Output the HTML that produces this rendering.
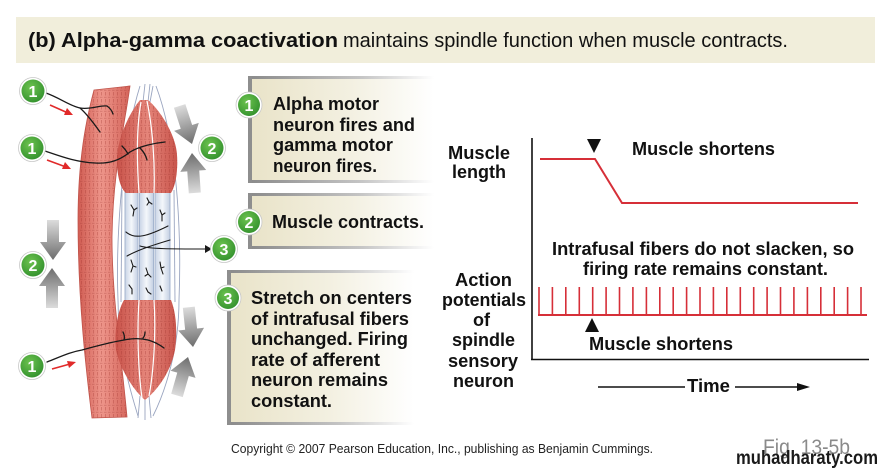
<!DOCTYPE html>
<html><head><meta charset="utf-8">
<style>
html,body{margin:0;padding:0;background:#fff;}
svg{display:block;}
text{font-family:"Liberation Sans",Arial,sans-serif;}
</style></head><body>
<svg width="885" height="470" viewBox="0 0 885 470" xmlns="http://www.w3.org/2000/svg">
<defs>
 <linearGradient id="boxg" x1="0" x2="1" y1="0" y2="0">
  <stop offset="0" stop-color="#e9e3c8"/>
  <stop offset="0.55" stop-color="#f3f0e1"/>
  <stop offset="1" stop-color="#ffffff"/>
 </linearGradient>
 <linearGradient id="bordg" x1="0" x2="1">
  <stop offset="0" stop-color="#8a8a8a"/>
  <stop offset="0.6" stop-color="#c4c4c4"/>
  <stop offset="1" stop-color="#ffffff"/>
 </linearGradient>
 <radialGradient id="green" cx="0.4" cy="0.35" r="0.75">
  <stop offset="0" stop-color="#6cc24f"/>
  <stop offset="1" stop-color="#2f8e2b"/>
 </radialGradient>
 <linearGradient id="garr" x1="0" x2="0" y1="0" y2="1">
  <stop offset="0" stop-color="#dcdcdc"/>
  <stop offset="1" stop-color="#6d6d6d"/>
 </linearGradient>
 <linearGradient id="fib" x1="0" x2="1">
  <stop offset="0" stop-color="#d05c52"/>
  <stop offset="0.45" stop-color="#ee958a"/>
  <stop offset="1" stop-color="#d4645a"/>
 </linearGradient>
 <linearGradient id="pole" x1="0" x2="1">
  <stop offset="0" stop-color="#c9534a"/>
  <stop offset="0.5" stop-color="#e5857a"/>
  <stop offset="1" stop-color="#c9554c"/>
 </linearGradient>
 <linearGradient id="tube" x1="0" x2="1">
  <stop offset="0" stop-color="#c9d4e6"/>
  <stop offset="0.5" stop-color="#f4f7fb"/>
  <stop offset="1" stop-color="#c3cfe2"/>
 </linearGradient>
 <pattern id="stri" width="4" height="7" patternUnits="userSpaceOnUse">
  <line x1="1.5" y1="1" x2="1.5" y2="4.5" stroke="#9e322b" stroke-width="0.7" opacity="0.45"/>
  <line x1="0" y1="6.2" x2="2.5" y2="6.2" stroke="#8e2a24" stroke-width="0.6" opacity="0.4"/>
 </pattern>
 <path id="arr" d="M -6 -40 L 6 -40 L 6 -18 L 13 -18 L 0 0 L -13 -18 L -6 -18 Z"/>
</defs>

<!-- Title banner -->
<rect x="16" y="17" width="859" height="46" fill="#f1eedb"/>
<text x="28" y="47" font-size="20" font-weight="bold" fill="#111" textLength="310" lengthAdjust="spacingAndGlyphs">(b) Alpha-gamma coactivation</text>
<text x="343" y="47" font-size="20" fill="#111" textLength="445" lengthAdjust="spacingAndGlyphs">maintains spindle function when muscle contracts.</text>

<!-- Extrafusal fiber -->
<path d="M 94 90 L 130 86 C 124 130, 113 170, 112 237 C 112 300, 122 360, 127 417 L 92 418 C 86 370, 78 300, 78 220 C 78 160, 86 120, 94 90 Z" fill="url(#fib)"/>
<path d="M 94 90 L 130 86 C 124 130, 113 170, 112 237 C 112 300, 122 360, 127 417 L 92 418 C 86 370, 78 300, 78 220 C 78 160, 86 120, 94 90 Z" fill="url(#stri)" stroke="#c0544b" stroke-width="0.8"/>

<!-- Spindle capsule lines -->
<g fill="none" stroke="#9aa5c0" stroke-width="0.9">
 <path d="M 140 86 C 120 150, 116 250, 118 300 C 118 350, 130 390, 138 416"/>
 <path d="M 156 86 C 180 150, 181 250, 179 300 C 179 350, 165 392, 153 416"/>
 <path d="M 145 84 L 143 102"/><path d="M 150 84 L 148 102"/><path d="M 153 86 L 150 102"/>
 <path d="M 140 396 L 138 418"/><path d="M 145 398 L 145 420"/><path d="M 149 396 L 151 418"/>
 <path d="M 122 190 L 121 302"/><path d="M 174 190 L 175 302"/>
</g>
<!-- tubes -->
<g stroke="#9fb0cb" stroke-width="0.9" fill="url(#tube)">
 <rect x="125" y="188" width="13" height="116"/>
 <rect x="139.5" y="188" width="14" height="116"/>
 <rect x="155" y="188" width="15" height="116"/>
</g>
<!-- top pole -->
<path d="M 140 100 C 128 115, 117 140, 117 160 C 117 180, 122 190, 126 193 L 171 193 C 176 185, 178 170, 177 155 C 176 135, 160 110, 148 100 Z" fill="url(#pole)"/>
<path d="M 140 100 C 128 115, 117 140, 117 160 C 117 180, 122 190, 126 193 L 171 193 C 176 185, 178 170, 177 155 C 176 135, 160 110, 148 100 Z" fill="url(#stri)"/>
<g fill="none" stroke="#fff" stroke-width="1.2">
 <path d="M 141 102 C 136 130, 137 165, 139 193"/>
 <path d="M 147 101 C 153 130, 155 165, 154 193"/>
</g>
<!-- bottom pole -->
<path d="M 124 300 L 171 300 C 177 315, 177 335, 175 350 C 170 375, 155 392, 145 400 C 135 392, 120 370, 116 350 C 114 330, 118 310, 124 300 Z" fill="url(#pole)"/>
<path d="M 124 300 L 171 300 C 177 315, 177 335, 175 350 C 170 375, 155 392, 145 400 C 135 392, 120 370, 116 350 C 114 330, 118 310, 124 300 Z" fill="url(#stri)"/>
<g fill="none" stroke="#fff" stroke-width="1.2">
 <path d="M 139 300 C 137 330, 138 370, 142 398"/>
 <path d="M 154 300 C 156 330, 154 370, 149 396"/>
</g>

<!-- intrafusal nerve endings -->
<g fill="none" stroke="#1a1a1a" stroke-width="1.1" stroke-linecap="round">
 <path d="M 126 232 C 135 240, 148 236, 168 226"/>
 <path d="M 127 256 C 138 250, 150 246, 170 240"/>
 <path d="M 131 205 l 3 5 l -1 6"/><path d="M 134 210 l 3 -2"/>
 <path d="M 147 198 l 2 4 l 3 2"/><path d="M 149 202 l -2 3"/>
 <path d="M 160 210 l 2 5 l 0 6"/><path d="M 162 215 l 3 -2"/>
 <path d="M 131 260 l 2 6 l -2 6"/><path d="M 133 266 l 3 1"/>
 <path d="M 146 268 l 2 6 l 3 3"/><path d="M 148 274 l -3 2"/>
 <path d="M 160 262 l 1 6 l 2 6"/><path d="M 161 268 l 3 -1"/>
 <path d="M 129 285 l 3 4 l 0 5"/><path d="M 146 288 l 2 4 l 3 2"/><path d="M 160 286 l 2 5"/>
 <path d="M 140 246 C 150 249, 170 249, 207 249"/>
</g>
<polygon points="205,245 212,249 205,253" fill="#1a1a1a"/>

<!-- nerves from circles -->
<g fill="none" stroke="#1a1a1a" stroke-width="1.3" stroke-linecap="round">
 <path d="M 46 93 C 60 98, 70 106, 80 108 C 90 110, 100 105, 107 106 C 110 108, 112 111, 113 114"/>
 <path d="M 80 108 C 88 115, 95 125, 100 132"/>
 <path d="M 45 151 C 60 156, 75 162, 95 163 C 110 164, 120 160, 130 152 C 140 146, 155 143, 165 142"/>
 <path d="M 128 154 C 126 150, 124 148, 122 146"/>
 <path d="M 140 148 C 144 152, 146 156, 147 160"/>
 <path d="M 47 362 C 60 357, 70 352, 82 350 C 100 345, 112 342, 124 340 C 133 338, 140 338, 148 340 C 155 342, 160 345, 164 348"/>
 <path d="M 124 340 C 125 337, 124 334, 123 332"/>
 <path d="M 143 338 C 145 336, 145 334, 145 332"/>
</g>
<!-- red arrows -->
<g stroke="#e12a2a" stroke-width="1.6" fill="#e12a2a">
 <line x1="50" y1="105" x2="68" y2="113"/><polygon points="73,115 64,115 67,108" stroke="none"/>
 <line x1="47" y1="160" x2="66" y2="167"/><polygon points="71,169 62,169 65,162" stroke="none"/>
 <line x1="52" y1="369" x2="70" y2="364"/><polygon points="76,362 69,368 67,361" stroke="none"/>
</g>

<!-- gray arrows -->
<use href="#arr" fill="url(#garr)" transform="translate(192,144) rotate(-18)"/>
<use href="#arr" fill="url(#garr)" transform="translate(192,153) rotate(176)"/>
<use href="#arr" fill="url(#garr)" transform="translate(53,260)"/>
<use href="#arr" fill="url(#garr)" transform="translate(52,268) rotate(180)"/>
<use href="#arr" fill="url(#garr)" transform="translate(193,347) rotate(-6)"/>
<use href="#arr" fill="url(#garr)" transform="translate(188,357) rotate(196)"/>

<!-- text boxes -->
<rect x="248" y="76" width="186" height="107" fill="url(#boxg)"/>
<rect x="248" y="76" width="186" height="3" fill="url(#bordg)"/>
<rect x="248" y="180" width="186" height="3" fill="url(#bordg)"/>
<rect x="248" y="76" width="4" height="107" fill="#8e8e8e"/>

<rect x="248" y="193" width="186" height="56" fill="url(#boxg)"/>
<rect x="248" y="193" width="186" height="3" fill="url(#bordg)"/>
<rect x="248" y="246" width="186" height="3" fill="url(#bordg)"/>
<rect x="248" y="193" width="4" height="56" fill="#8e8e8e"/>

<rect x="227" y="270" width="187" height="155" fill="url(#boxg)"/>
<rect x="227" y="270" width="187" height="3" fill="url(#bordg)"/>
<rect x="227" y="422" width="187" height="3" fill="url(#bordg)"/>
<rect x="227" y="270" width="4" height="155" fill="#8e8e8e"/>

<g font-size="18" font-weight="bold" fill="#111">
 <text x="273" y="110" textLength="106" lengthAdjust="spacingAndGlyphs">Alpha motor</text>
 <text x="273" y="131" textLength="142" lengthAdjust="spacingAndGlyphs">neuron fires and</text>
 <text x="273" y="151" textLength="120" lengthAdjust="spacingAndGlyphs">gamma motor</text>
 <text x="273" y="172" textLength="104" lengthAdjust="spacingAndGlyphs">neuron fires.</text>
 <text x="272" y="228" textLength="152" lengthAdjust="spacingAndGlyphs">Muscle contracts.</text>
 <text x="251" y="304" textLength="161" lengthAdjust="spacingAndGlyphs">Stretch on centers</text>
 <text x="251" y="325" textLength="158" lengthAdjust="spacingAndGlyphs">of intrafusal fibers</text>
 <text x="251" y="345" textLength="157" lengthAdjust="spacingAndGlyphs">unchanged. Firing</text>
 <text x="251" y="366" textLength="129" lengthAdjust="spacingAndGlyphs">rate of afferent</text>
 <text x="251" y="386" textLength="137" lengthAdjust="spacingAndGlyphs">neuron remains</text>
 <text x="251" y="407" textLength="81" lengthAdjust="spacingAndGlyphs">constant.</text>
</g>

<!-- green circles -->
<g font-size="16" font-weight="bold" fill="#fff" text-anchor="middle">
 <g transform="translate(33,91)"><circle r="13.5" fill="#fff" stroke="#c8c8c8" stroke-width="0.8"/><circle r="11.5" fill="url(#green)"/><text y="6">1</text></g>
 <g transform="translate(32,148)"><circle r="13.5" fill="#fff" stroke="#c8c8c8" stroke-width="0.8"/><circle r="11.5" fill="url(#green)"/><text y="6">1</text></g>
 <g transform="translate(33,265)"><circle r="13.5" fill="#fff" stroke="#c8c8c8" stroke-width="0.8"/><circle r="11.5" fill="url(#green)"/><text y="6">2</text></g>
 <g transform="translate(32,366)"><circle r="13.5" fill="#fff" stroke="#c8c8c8" stroke-width="0.8"/><circle r="11.5" fill="url(#green)"/><text y="6">1</text></g>
 <g transform="translate(212,148)"><circle r="13.5" fill="#fff" stroke="#c8c8c8" stroke-width="0.8"/><circle r="11.5" fill="url(#green)"/><text y="6">2</text></g>
 <g transform="translate(224,249)"><circle r="13.5" fill="#fff" stroke="#c8c8c8" stroke-width="0.8"/><circle r="11.5" fill="url(#green)"/><text y="6">3</text></g>
 <g transform="translate(249,105)"><circle r="13" fill="#fff" stroke="#c8c8c8" stroke-width="0.8"/><circle r="11" fill="url(#green)"/><text y="6">1</text></g>
 <g transform="translate(249,222)"><circle r="13" fill="#fff" stroke="#c8c8c8" stroke-width="0.8"/><circle r="11" fill="url(#green)"/><text y="6">2</text></g>
 <g transform="translate(228,298)"><circle r="13" fill="#fff" stroke="#c8c8c8" stroke-width="0.8"/><circle r="11" fill="url(#green)"/><text y="6">3</text></g>
</g>

<!-- Graph -->
<line x1="532" y1="138" x2="532" y2="360" stroke="#111" stroke-width="1.6"/>
<line x1="531" y1="359.5" x2="869" y2="359.5" stroke="#111" stroke-width="1.6"/>
<polyline points="540,159 595,159 622,203 858,203" fill="none" stroke="#d62f38" stroke-width="2"/>
<polygon points="587,139 601,139 594,153" fill="#111"/>
<line x1="538" y1="315" x2="867" y2="315" stroke="#d62f38" stroke-width="2"/>
<g stroke="#d62f38" stroke-width="1.6">
 <line x1="539" y1="287" x2="539" y2="315"/><line x1="552.4" y1="287" x2="552.4" y2="315"/>
 <line x1="565.8" y1="287" x2="565.8" y2="315"/><line x1="579.3" y1="287" x2="579.3" y2="315"/>
 <line x1="592.7" y1="287" x2="592.7" y2="315"/><line x1="606.1" y1="287" x2="606.1" y2="315"/>
 <line x1="619.5" y1="287" x2="619.5" y2="315"/><line x1="632.9" y1="287" x2="632.9" y2="315"/>
 <line x1="646.4" y1="287" x2="646.4" y2="315"/><line x1="659.8" y1="287" x2="659.8" y2="315"/>
 <line x1="673.2" y1="287" x2="673.2" y2="315"/><line x1="686.6" y1="287" x2="686.6" y2="315"/>
 <line x1="700" y1="287" x2="700" y2="315"/><line x1="713.4" y1="287" x2="713.4" y2="315"/>
 <line x1="726.8" y1="287" x2="726.8" y2="315"/><line x1="740.3" y1="287" x2="740.3" y2="315"/>
 <line x1="753.7" y1="287" x2="753.7" y2="315"/><line x1="767.1" y1="287" x2="767.1" y2="315"/>
 <line x1="780.5" y1="287" x2="780.5" y2="315"/><line x1="793.9" y1="287" x2="793.9" y2="315"/>
 <line x1="807.4" y1="287" x2="807.4" y2="315"/><line x1="820.8" y1="287" x2="820.8" y2="315"/>
 <line x1="834.2" y1="287" x2="834.2" y2="315"/><line x1="847.6" y1="287" x2="847.6" y2="315"/>
 <line x1="861" y1="287" x2="861" y2="315"/>
</g>
<polygon points="585,332 599,332 592,318" fill="#111"/>

<g font-size="18" font-weight="bold" fill="#111">
 <text x="448" y="159" textLength="62" lengthAdjust="spacingAndGlyphs">Muscle</text>
 <text x="452" y="178" textLength="54" lengthAdjust="spacingAndGlyphs">length</text>
 <text x="632" y="155" textLength="143" lengthAdjust="spacingAndGlyphs">Muscle shortens</text>
 <text x="552" y="255" textLength="302" lengthAdjust="spacingAndGlyphs">Intrafusal fibers do not slacken, so</text>
 <text x="583" y="275" textLength="245" lengthAdjust="spacingAndGlyphs">firing rate remains constant.</text>
 <text x="455" y="286" textLength="57" lengthAdjust="spacingAndGlyphs">Action</text>
 <text x="442" y="306" textLength="84" lengthAdjust="spacingAndGlyphs">potentials</text>
 <text x="473" y="326" textLength="17" lengthAdjust="spacingAndGlyphs">of</text>
 <text x="452" y="346" textLength="63" lengthAdjust="spacingAndGlyphs">spindle</text>
 <text x="448" y="367" textLength="70" lengthAdjust="spacingAndGlyphs">sensory</text>
 <text x="453" y="387" textLength="61" lengthAdjust="spacingAndGlyphs">neuron</text>
 <text x="589" y="350" textLength="144" lengthAdjust="spacingAndGlyphs">Muscle shortens</text>
 <text x="687" y="392" textLength="43" lengthAdjust="spacingAndGlyphs">Time</text>
</g>
<line x1="598" y1="387" x2="685" y2="387" stroke="#111" stroke-width="1.5"/>
<line x1="735" y1="387" x2="800" y2="387" stroke="#111" stroke-width="1.5"/>
<polygon points="797,383 810,387 797,391" fill="#111"/>

<!-- footer -->
<text x="231" y="453" font-size="13" fill="#222" textLength="422" lengthAdjust="spacingAndGlyphs">Copyright © 2007 Pearson Education, Inc., publishing as Benjamin Cummings.</text>
<text x="763" y="454" font-size="21" fill="#8a8a8a" textLength="87" lengthAdjust="spacingAndGlyphs">Fig. 13-5b</text>
<text x="736" y="464" font-size="19" font-weight="bold" fill="#1a1a1a" textLength="142" lengthAdjust="spacingAndGlyphs">muhadharaty.com</text>
</svg>
</body></html>
